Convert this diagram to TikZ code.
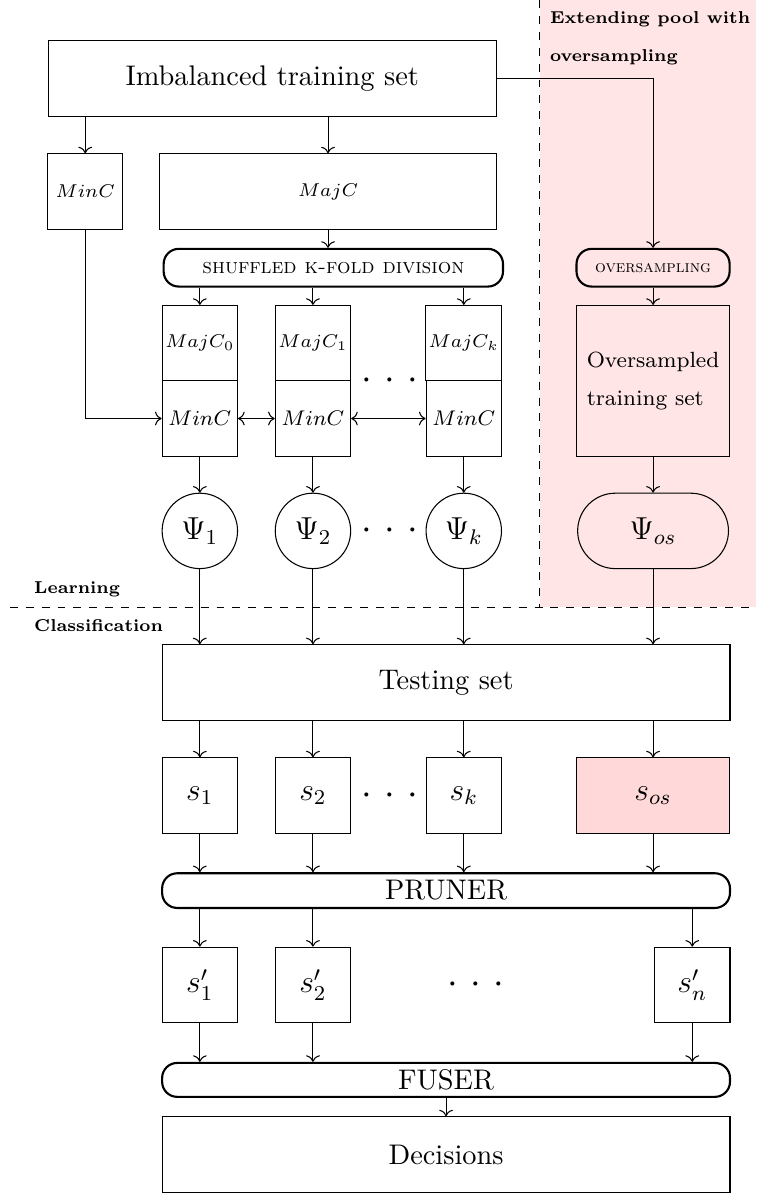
\documentclass[tikz,border=0pt]{standalone}
\usepackage{amsmath}
\usetikzlibrary{arrows.meta,positioning}

\begin{document}
\begin{tikzpicture}[
    blk/.style={draw, rectangle, minimum width=1cm, minimum height=1cm, inner sep=1pt, font=\fontsize{10.7}{13}\selectfont},
    pill/.style={draw, thick, rectangle, rounded corners=0.2cm, minimum height=0.5cm, inner sep=1pt, font=\fontsize{10.7}{13}\selectfont},
    clf/.style={draw, circle, minimum size=1cm, inner sep=0pt, font=\large},
    note/.style={font=\fontsize{6.5}{8}\selectfont\bfseries, anchor=west},
    dots/.style={font=\Large, inner sep=0pt}]
    \useasboundingbox (0,0) rectangle (10.03,-15.82);
    % oversampling area and learning / classification split
    \fill[red!10] (7.16,0) rectangle (10.03,-8.05);
    \draw[dashed] (7.16,0) -- (7.16,-8.05);
    \draw[dashed] (0.13,-8.05) -- (10.03,-8.05);
    \node[note, align=left] (ext) at (7.17,-0.51) {Extending pool with\\[6.2pt]oversampling};
    \node[note] (lrn) at (0.33,-7.81) {Learning};
    \node[note] (cls) at (0.33,-8.29) {Classification};

    % learning
    \node[blk, minimum width=5.94cm] (train) at (3.61,-1.04) {Imbalanced training set};
    \node[blk, font=\fontsize{6.6}{8}\selectfont] (minc) at (1.13,-2.54) {$MinC$};
    \node[blk, minimum width=4.46cm, font=\fontsize{6.6}{8}\selectfont] (majc) at (4.35,-2.54) {$MajC$};
    \node[pill, minimum width=4.5cm, font=\footnotesize\scshape] (shuf) at (4.42,-3.55) {shuffled k-fold division};
    \node[blk, font=\fontsize{7.5}{9}\selectfont] (maj0) at (2.65,-4.55) {$MajC_0$};
    \node[blk, font=\footnotesize] (min0) at (2.65,-5.55) {$MinC$};
    \node[blk, font=\fontsize{7.5}{9}\selectfont] (maj1) at (4.15,-4.55) {$MajC_1$};
    \node[blk, font=\footnotesize] (min1) at (4.15,-5.55) {$MinC$};
    \node[blk, font=\fontsize{7.5}{9}\selectfont] (majk) at (6.15,-4.55) {$MajC_k$};
    \node[blk, font=\footnotesize] (mink) at (6.15,-5.55) {$MinC$};
    \node[dots] (dfold) at (5.17,-5.05) {$\cdot$ $\cdot$ $\cdot$};
    \node[clf] (psi1) at (2.65,-7.04) {$\Psi_1$};
    \node[clf] (psi2) at (4.15,-7.04) {$\Psi_2$};
    \node[clf] (psik) at (6.15,-7.04) {$\Psi_k$};
    \node[dots] (dpsi) at (5.17,-7.04) {$\cdot$ $\cdot$ $\cdot$};
    \node[pill, minimum width=2.03cm, font=\fontsize{6.4}{8}\selectfont\scshape] (ovs) at (8.66,-3.55) {oversampling};
    \node[blk, minimum width=2.03cm, minimum height=2cm, align=left, font=\fontsize{8.3}{10}\selectfont] (ovset) at (8.66,-5.05) {Oversampled\\[4.3pt]training set};
    \node[draw, rectangle, rounded corners=0.5cm, minimum width=2cm, minimum height=1cm, font=\large] (psios) at (8.66,-7.04) {$\Psi_{os}$};

    % classification
    \node[blk, minimum width=7.53cm] (test) at (5.915,-9.05) {Testing set};
    \node[blk, font=\large] (s1) at (2.65,-10.55) {$s_1$};
    \node[blk, font=\large] (s2) at (4.15,-10.55) {$s_2$};
    \node[blk, font=\large] (sk) at (6.15,-10.55) {$s_k$};
    \node[blk, minimum width=2.03cm, fill=red!15, font=\large] (sos) at (8.66,-10.55) {$s_{os}$};
    \node[dots] (ds) at (5.17,-10.55) {$\cdot$ $\cdot$ $\cdot$};
    \node[pill, minimum width=7.53cm, minimum height=0.46cm] (prune) at (5.915,-11.81) {PRUNER};
    \node[blk, font=\large] (sp1) at (2.65,-13.06) {$s'_1$};
    \node[blk, font=\large] (sp2) at (4.15,-13.06) {$s'_2$};
    \node[blk, font=\large] (spn) at (9.18,-13.06) {$s'_n$};
    \node[dots] (dsp) at (6.31,-13.06) {$\cdot$ $\cdot$ $\cdot$};
    \node[pill, minimum width=7.53cm, minimum height=0.45cm] (fuse) at (5.915,-14.32) {FUSER};
    \node[blk, minimum width=7.53cm] (dec) at (5.915,-15.31) {Decisions};

    \draw[->] (minc |- train.south) -- (minc);
    \draw[->] (majc |- train.south) -- (majc);
    \draw[->] (train.east) -| (ovs);
    \draw[->] (majc) -- (majc |- shuf.north);
    \foreach \f in {0,1,k} \draw[->] (shuf.south -| maj\f) -- (maj\f);
    \draw[->] (minc) |- (min0);
    \draw[<->] (min0) -- (min1);
    \draw[<->] (min1) -- (mink);
    \draw[->] (ovs) -- (ovset);
    \foreach \f/\p in {0/1,1/2,k/k} \draw[->] (min\f) -- (psi\p);
    \draw[->] (ovset) -- (psios);
    \foreach \p in {1,2,k,os} \draw[->] (psi\p) -- (psi\p |- test.north);
    \foreach \p in {1,2,k,os} \draw[->] (test.south -| s\p) -- (s\p);
    \foreach \p in {1,2,k,os} \draw[->] (s\p) -- (s\p |- prune.north);
    \foreach \p in {1,2,n} \draw[->] (prune.south -| sp\p) -- (sp\p);
    \foreach \p in {1,2,n} \draw[->] (sp\p) -- (sp\p |- fuse.north);
    \draw[->] (fuse) -- (dec);
\end{tikzpicture}
\end{document}
